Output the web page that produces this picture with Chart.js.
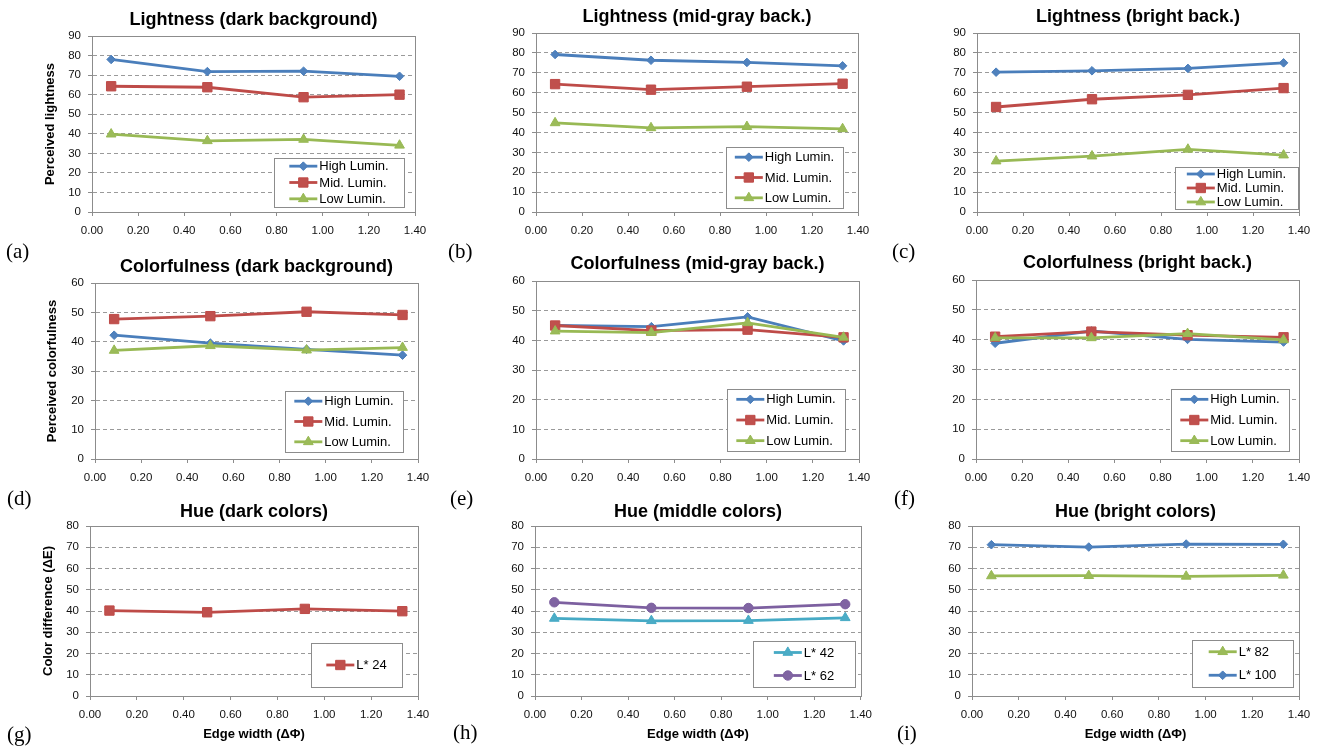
<!DOCTYPE html>
<html>
<head>
<meta charset="utf-8">
<title>Edge width experiments</title>
<script src="https://cdn.jsdelivr.net/npm/chart.js@4.4.1/dist/chart.umd.min.js"></script>
<style>
  html, body { margin: 0; padding: 0; background: #fff; }
  #page { position: relative; width: 1323px; height: 752px; overflow: hidden; }
  #page canvas { position: absolute; }
  .tag {
    position: absolute;
    font-family: "Liberation Serif", "Times New Roman", serif;
    font-size: 21px; line-height: 22px; color: #000;
  }
</style>
</head>
<body>
<div id="page"></div>
<script>
/* ── DATA ─────────────────────────────────────────────────────────── */
const EDGE_WIDTH = [0.083, 0.5, 0.917, 1.333];
const X_TICKS    = [0, 0.2, 0.4, 0.6, 0.8, 1.0, 1.2, 1.4];
const X_TITLE    = 'Edge width (\u0394\u03A6)';

const LIGHT_MAX = 90, COLOR_MAX = 60, HUE_MAX = 80, Y_STEP = 10;

const LIGHT_DARK_HIGH   = [78.0, 71.8, 72.0, 69.4];
const LIGHT_DARK_MID    = [64.3, 63.8, 58.7, 60.0];
const LIGHT_DARK_LOW    = [39.8, 36.4, 37.1, 34.1];

const LIGHT_GRAY_HIGH   = [79.2, 76.3, 75.2, 73.5];
const LIGHT_GRAY_MID    = [64.3, 61.5, 63.0, 64.5];
const LIGHT_GRAY_LOW    = [44.8, 42.3, 42.9, 41.8];

const LIGHT_BRIGHT_HIGH = [70.3, 71.0, 72.2, 75.0];
const LIGHT_BRIGHT_MID  = [52.8, 56.7, 58.9, 62.3];
const LIGHT_BRIGHT_LOW  = [25.6, 28.1, 31.5, 28.6];

const COLOR_DARK_HIGH   = [42.2, 39.5, 37.4, 35.4];
const COLOR_DARK_MID    = [47.7, 48.7, 50.2, 49.1];
const COLOR_DARK_LOW    = [37.0, 38.6, 37.1, 38.0];

const COLOR_GRAY_HIGH   = [45.0, 44.6, 47.9, 39.8];
const COLOR_GRAY_MID    = [45.0, 43.3, 43.6, 41.0];
const COLOR_GRAY_LOW    = [43.1, 42.6, 45.9, 41.0];

const COLOR_BRIGHT_HIGH = [38.8, 42.9, 40.1, 39.2];
const COLOR_BRIGHT_MID  = [41.0, 42.7, 41.5, 40.8];
const COLOR_BRIGHT_LOW  = [40.6, 40.6, 42.0, 39.9];

const HUE_DARK_L24      = [40.2, 39.4, 41.0, 39.9];
const HUE_MID_L42       = [36.5, 35.4, 35.5, 36.8];
const HUE_MID_L62       = [44.1, 41.5, 41.4, 43.2];
const HUE_BRIGHT_L82    = [56.5, 56.6, 56.3, 56.8];
const HUE_BRIGHT_L100   = [71.2, 70.1, 71.5, 71.4];

/* ── STYLE ────────────────────────────────────────────────────────── */
const FONT  = '"Liberation Sans", Arial, sans-serif';
const FRAME = '#8c8c8c';
const GRID  = '#9a9a9a';

const STYLE = {
  high:   { line: '#4A7EBB', fill: '#4F81BD', shape: 'rectRot',  radius: 4.3 },
  mid:    { line: '#BE4B48', fill: '#C0504D', shape: 'rect',     radius: 6.6 },
  low:    { line: '#98B954', fill: '#9BBB59', shape: 'triangle', radius: 5.6 },
  cyan:   { line: '#46AAC5', fill: '#4BACC6', shape: 'triangle', radius: 5.6 },
  purple: { line: '#7D60A0', fill: '#8064A2', shape: 'circle',   radius: 4.7 },
};

const COLS = [{ x: 0, w: 440 }, { x: 440, w: 440 }, { x: 880, w: 443 }];
const ROWS = [{ y: 0, h: 245 }, { y: 245, h: 245 }, { y: 490, h: 262 }];

const lum = (h, m, l) => [
  { label: 'High Lumin.', values: h, style: STYLE.high },
  { label: 'Mid. Lumin.', values: m, style: STYLE.mid },
  { label: 'Low Lumin.',  values: l, style: STYLE.low },
];

// page coordinates: plot = chart area, legend = legend box
const PANELS = [
  { tag: '(a)', tagX: 6,   tagY: 251, col: 0, row: 0, title: 'Lightness (dark background)', titleY: 20,
    yTitle: 'Perceived lightness', yTitleX: 50, yMax: LIGHT_MAX,
    plot: { l: 92, r: 415, t: 36, b: 212 }, legend: { x: 274, y: 158, w: 130, h: 49 },
    series: lum(LIGHT_DARK_HIGH, LIGHT_DARK_MID, LIGHT_DARK_LOW) },
  { tag: '(b)', tagX: 448, tagY: 251, col: 1, row: 0, title: 'Lightness (mid-gray back.)', titleY: 17,
    yMax: LIGHT_MAX,
    plot: { l: 536, r: 858, t: 33, b: 212 }, legend: { x: 726, y: 147, w: 117, h: 61 },
    series: lum(LIGHT_GRAY_HIGH, LIGHT_GRAY_MID, LIGHT_GRAY_LOW) },
  { tag: '(c)', tagX: 892, tagY: 251, col: 2, row: 0, title: 'Lightness (bright back.)', titleY: 17,
    yMax: LIGHT_MAX,
    plot: { l: 977, r: 1299, t: 33, b: 212 }, legend: { x: 1175, y: 167, w: 123, h: 42 },
    series: lum(LIGHT_BRIGHT_HIGH, LIGHT_BRIGHT_MID, LIGHT_BRIGHT_LOW) },

  { tag: '(d)', tagX: 7,   tagY: 498, col: 0, row: 1, title: 'Colorfulness (dark background)', titleY: 267,
    yTitle: 'Perceived colorfulness', yTitleX: 52, yMax: COLOR_MAX,
    plot: { l: 95, r: 418, t: 283, b: 459 }, legend: { x: 285, y: 391, w: 118, h: 61 },
    series: lum(COLOR_DARK_HIGH, COLOR_DARK_MID, COLOR_DARK_LOW) },
  { tag: '(e)', tagX: 450, tagY: 498, col: 1, row: 1, title: 'Colorfulness (mid-gray back.)', titleY: 264,
    yMax: COLOR_MAX,
    plot: { l: 536, r: 859, t: 281, b: 459 }, legend: { x: 727, y: 389, w: 118, h: 62 },
    series: lum(COLOR_GRAY_HIGH, COLOR_GRAY_MID, COLOR_GRAY_LOW) },
  { tag: '(f)', tagX: 894, tagY: 498, col: 2, row: 1, title: 'Colorfulness (bright back.)', titleY: 263,
    yMax: COLOR_MAX,
    plot: { l: 976, r: 1299, t: 280, b: 459 }, legend: { x: 1171, y: 389, w: 118, h: 62 },
    series: lum(COLOR_BRIGHT_HIGH, COLOR_BRIGHT_MID, COLOR_BRIGHT_LOW) },

  { tag: '(g)', tagX: 7,   tagY: 734, col: 0, row: 2, title: 'Hue (dark colors)', titleY: 512,
    yTitle: 'Color difference (\u0394E)', yTitleX: 48, xTitle: X_TITLE, yMax: HUE_MAX,
    plot: { l: 90, r: 418, t: 526, b: 696 }, legend: { x: 311, y: 643, w: 91, h: 44 },
    series: [{ label: 'L* 24', values: HUE_DARK_L24, style: STYLE.mid }] },
  { tag: '(h)', tagX: 453, tagY: 732, col: 1, row: 2, title: 'Hue (middle colors)', titleY: 512,
    xTitle: X_TITLE, yMax: HUE_MAX,
    plot: { l: 535, r: 862, t: 526, b: 696 }, legend: { x: 753, y: 641, w: 102, h: 46 },
    series: [{ label: 'L* 42', values: HUE_MID_L42, style: STYLE.cyan },
             { label: 'L* 62', values: HUE_MID_L62, style: STYLE.purple }] },
  { tag: '(i)', tagX: 897, tagY: 733, col: 2, row: 2, title: 'Hue (bright colors)', titleY: 512,
    xTitle: X_TITLE, yMax: HUE_MAX,
    plot: { l: 972, r: 1299, t: 526, b: 696 }, legend: { x: 1192, y: 640, w: 101, h: 47 },
    series: [{ label: 'L* 82',  values: HUE_BRIGHT_L82,  style: STYLE.low },
             { label: 'L* 100', values: HUE_BRIGHT_L100, style: STYLE.high }] },
];

/* ── PLUGINS ──────────────────────────────────────────────────────── */
// solid frame round the plot area (Excel style)
const plotFrame = {
  id: 'plotFrame',
  beforeDatasetsDraw(chart) {
    const { ctx, chartArea: a } = chart;
    ctx.save();
    ctx.strokeStyle = FRAME;
    ctx.lineWidth = 1;
    ctx.strokeRect(Math.round(a.left) + 0.5, Math.round(a.top) + 0.5,
                   Math.round(a.right - a.left), Math.round(a.bottom - a.top));
    ctx.restore();
  }
};

// boxed legend placed inside the plot area
const boxLegend = {
  id: 'boxLegend',
  afterDatasetsDraw(chart, args, opts) {
    const b = opts.box;
    if (!b) return;
    const { ctx } = chart;
    const sets = chart.data.datasets;
    ctx.save();
    ctx.fillStyle = '#fff';
    ctx.fillRect(b.x, b.y, b.w, b.h);
    ctx.strokeStyle = FRAME;
    ctx.lineWidth = 1;
    ctx.strokeRect(Math.round(b.x) + 0.5, Math.round(b.y) + 0.5, b.w, b.h);

    ctx.font = '13px ' + FONT;
    const textW = Math.max(...sets.map(d => ctx.measureText(d.label).width));
    const sample = 28;
    const left = b.x + (b.w - sample - 2 - textW) / 2;
    const rowH = b.h / sets.length;

    sets.forEach((d, i) => {
      const y = b.y + rowH * (i + 0.5);
      ctx.strokeStyle = d.borderColor;
      ctx.lineWidth = d.borderWidth;
      ctx.beginPath();
      ctx.moveTo(left, y);
      ctx.lineTo(left + sample, y);
      ctx.stroke();

      ctx.fillStyle = d.pointBackgroundColor;
      ctx.strokeStyle = d.pointBorderColor;
      ctx.lineWidth = 1;
      Chart.helpers.drawPoint(ctx, { pointStyle: d.pointStyle, radius: d.pointRadius, rotation: 0, borderWidth: 1 },
                              left + sample / 2, y);

      ctx.fillStyle = '#000';
      ctx.textAlign = 'left';
      ctx.textBaseline = 'middle';
      ctx.fillText(d.label, left + sample + 2, y + 0.5);
    });
    ctx.restore();
  }
};

/* ── BUILD ────────────────────────────────────────────────────────── */
const page = document.getElementById('page');
const TITLE_SIZE = 18, TITLE_LH = TITLE_SIZE * 1.2;
const AXIS_SIZE = 13, AXIS_LH = AXIS_SIZE * 1.2;
const TICK_SIZE = 11.5;

function buildPanel(p) {
  const col = COLS[p.col], row = ROWS[p.row];
  const canvas = document.createElement('canvas');
  canvas.width = col.w;
  canvas.height = row.h;
  canvas.style.left = col.x + 'px';
  canvas.style.top = row.y + 'px';
  canvas.style.width = col.w + 'px';
  canvas.style.height = row.h + 'px';
  page.appendChild(canvas);

  const tag = document.createElement('div');
  tag.className = 'tag';
  tag.textContent = p.tag;
  tag.style.left = p.tagX + 'px';
  tag.style.top = (p.tagY - 11) + 'px';
  page.appendChild(tag);

  const yAxisW = p.plot.l - col.x;
  const xAxisH = row.y + row.h - p.plot.b;
  const rightPad = col.x + col.w - p.plot.r;
  const titleTop = p.titleY - row.y - TITLE_LH / 2;
  const titleBottom = p.plot.t - row.y - titleTop - TITLE_LH;
  const n = p.series.length;

  const datasets = p.series.map((s, i) => ({
    label: s.label,
    data: EDGE_WIDTH.map((x, k) => ({ x, y: s.values[k] })),
    borderColor: s.style.line,
    borderWidth: 2.8,
    pointStyle: s.style.shape,
    pointRadius: s.style.radius,
    pointBackgroundColor: s.style.fill,
    pointBorderColor: s.style.line,
    pointBorderWidth: 1,
    tension: 0,
    order: n - i,          // later series drawn on top, as in Excel
  }));

  new Chart(canvas, {
    type: 'line',
    data: { datasets },
    plugins: [plotFrame, boxLegend],
    options: {
      responsive: false,
      animation: false,
      layout: { padding: { left: 0, top: 0, right: rightPad, bottom: 0 } },
      plugins: {
        legend: { display: false },
        tooltip: { enabled: false },
        title: {
          display: true,
          text: p.title,
          fullSize: false,
          color: '#000',
          font: { family: FONT, size: TITLE_SIZE, weight: 'bold', lineHeight: 1.2 },
          padding: { top: titleTop, bottom: titleBottom },
        },
        boxLegend: {
          box: { x: p.legend.x - col.x, y: p.legend.y - row.y, w: p.legend.w, h: p.legend.h }
        },
      },
      scales: {
        x: {
          type: 'linear',
          min: X_TICKS[0],
          max: X_TICKS[X_TICKS.length - 1],
          afterBuildTicks: sc => { sc.ticks = X_TICKS.map(v => ({ value: v })); },
          afterFit: sc => { sc.height = xAxisH; },
          grid: { drawOnChartArea: false, drawTicks: true, tickLength: 4, tickColor: FRAME },
          border: { display: true, color: FRAME, width: 1 },
          ticks: {
            color: '#111', padding: 8, maxRotation: 0, autoSkip: false,
            font: { family: FONT, size: TICK_SIZE },
            callback: v => Number(v).toFixed(2),
          },
          title: {
            display: !!p.xTitle,
            text: p.xTitle || '',
            color: '#000',
            font: { family: FONT, size: AXIS_SIZE, weight: 'bold', lineHeight: 1.2 },
            padding: 10,
          },
        },
        y: {
          type: 'linear',
          min: 0,
          max: p.yMax,
          afterFit: sc => { sc.width = yAxisW; },
          grid: { color: GRID, lineWidth: 1, drawTicks: true, tickLength: 4, tickColor: FRAME },
          border: { display: true, color: FRAME, width: 1, dash: [4, 3] },
          ticks: {
            stepSize: Y_STEP, color: '#111', padding: 7,
            font: { family: FONT, size: TICK_SIZE },
          },
          title: {
            display: !!p.yTitle,
            text: p.yTitle || '',
            color: '#000',
            font: { family: FONT, size: AXIS_SIZE, weight: 'bold', lineHeight: 1.2 },
            padding: p.yTitle ? p.yTitleX - col.x - AXIS_LH / 2 : 0,
          },
        },
      },
    },
  });
}

PANELS.forEach(buildPanel);
</script>
</body>
</html>
